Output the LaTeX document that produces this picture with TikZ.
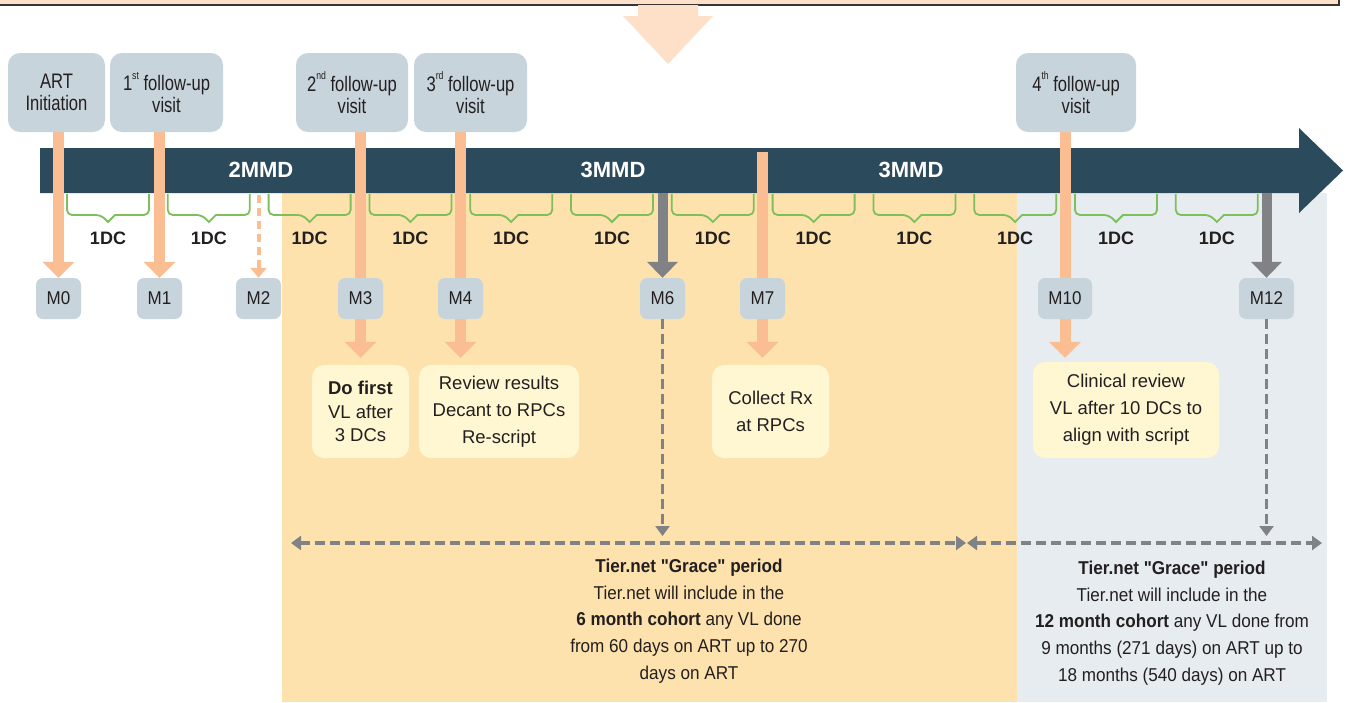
\documentclass[tikz,border=0pt]{standalone}
\usepackage{fontspec}
\setmainfont{Liberation Sans}
\newfontfamily\condA[FakeStretch=0.79]{Liberation Sans}
\newfontfamily\condB[FakeStretch=0.92]{Liberation Sans}
\usetikzlibrary{arrows.meta}
\definecolor{peach}{HTML}{FBBE92}
\definecolor{bandpeach}{HTML}{FDE0C8}
\definecolor{bigpeach}{HTML}{FEDFC7}
\definecolor{bandline}{HTML}{3A3433}
\definecolor{boxblue}{HTML}{C8D4DC}
\definecolor{barteal}{HTML}{2B4A5B}
\definecolor{regorange}{HTML}{FDE2AE}
\definecolor{reggrey}{HTML}{E6ECF0}
\definecolor{cream}{HTML}{FFF7D2}
\definecolor{brkgreen}{HTML}{7DC05B}
\definecolor{arrgrey}{HTML}{808285}
\definecolor{txt}{HTML}{231F20}
\pgfdeclarelayer{back}
\pgfdeclarelayer{mid}
\pgfsetlayers{back,mid,main}
\newcommand\supx[1]{\raisebox{0.55em}{\fontsize{11}{11}\selectfont #1}}
\tikzset{
  topbox/.style={fill=boxblue, rounded corners=12pt, minimum height=79pt, inner sep=0pt, align=center, text=txt, font=\condA\fontsize{21}{22}\selectfont},
  mbox/.style={fill=boxblue, rounded corners=7pt, minimum height=41pt, minimum width=45pt, inner sep=0pt, text=txt, font=\condB\fontsize{18.5}{20}\selectfont},
  actbox/.style={fill=cream, rounded corners=12pt, minimum height=93pt, inner sep=0pt, align=center, text=txt, font=\fontsize{18.5}{27}\selectfont},
  pa/.style={draw=peach, line width=11pt, -{Triangle[width=31pt,length=16pt]}},
  ga/.style={draw=arrgrey, line width=10pt, -{Triangle[width=30pt,length=16pt]}},
  gd/.style={draw=arrgrey, line width=3.2pt, dash pattern=on 10pt off 5pt},
  gtip/.tip={Triangle[width=14pt,length=10pt]},
  brk/.style={draw=brkgreen, line width=1.8pt},
  dclabel/.style={font=\bfseries\fontsize{18}{20}\selectfont, text=txt},
  bartext/.style={font=\bfseries\fontsize{22}{24}\selectfont, text=white},
  grace/.style={align=center, text=txt, font=\condB\fontsize{18.6}{26.6}\selectfont}
}
\begin{document}
\begin{tikzpicture}[x=1pt,y=-1pt]
\useasboundingbox (0,0) rectangle (1349,702);
% background layer
\begin{pgfonlayer}{back}
  \fill[white] (0,0) rectangle (1349,702);
  \fill[regorange] (282,193) rectangle (1017,702);
  \fill[reggrey] (1017,193) rectangle (1327,702);
  \draw[fill=bandpeach, draw=bandline, line width=1.5pt] (-5,-10) rectangle (1339,5);
  \fill[bigpeach] (638,5) -- (698,5) -- (698,16) -- (713,16) -- (668,64) -- (623,16) -- (638,16) -- cycle;
  \fill[barteal] (40,148) -- (1299,148) -- (1299,128) -- (1343,170.5) -- (1299,213) -- (1299,193) -- (40,193) -- cycle;
  \foreach \k in {0,...,11}{
    \pgfmathsetmacro\cx{108+100.8*\k}
    \draw[brk] (\cx-41,194) [rounded corners=5pt] -- (\cx-41,215) -- (\cx-7,215) [sharp corners] -- (\cx,222) -- (\cx+7,215) [rounded corners=5pt] -- (\cx+41,215) -- (\cx+41,194);
    \node[dclabel] at (\cx,238) {1DC};
  }
\end{pgfonlayer}
% bar texts
\node[bartext] (mmd2) at (261,170) {2MMD};
\node[bartext] (mmd3a) at (613,170) {3MMD};
\node[bartext] (mmd3b) at (911,170) {3MMD};
% top boxes
\node[topbox, minimum width=97pt] (t0) at (56.5,92.5) {ART\\Initiation};
\node[topbox, minimum width=113pt] (t1) at (166.5,92.5) {1\supx{st} follow-up\\visit};
\node[topbox, minimum width=112pt] (t2) at (352,92.5) {2\supx{nd} follow-up\\visit};
\node[topbox, minimum width=113pt] (t3) at (470.5,92.5) {3\supx{rd} follow-up\\visit};
\node[topbox, minimum width=120pt] (t4) at (1076,92.5) {4\supx{th} follow-up\\visit};
% month boxes
\node[mbox] (m0) at (58.5,298.5) {M0};
\node[mbox] (m1) at (159.5,298.5) {M1};
\node[mbox] (m2) at (258.5,298.5) {M2};
\node[mbox] (m3) at (360.5,298.5) {M3};
\node[mbox] (m4) at (460.5,298.5) {M4};
\node[mbox] (m6) at (662.5,298.5) {M6};
\node[mbox] (m7) at (762.5,298.5) {M7};
\node[mbox, minimum width=54pt] (m10) at (1065,298.5) {M10};
\node[mbox, minimum width=55pt] (m12) at (1266.5,298.5) {M12};
% action boxes
\node[actbox, minimum width=97pt, font=\fontsize{18.5}{23.5}\selectfont] (b3) at (360.5,411.5) {\textbf{Do first}\\VL after\\3 DCs};
\node[actbox, minimum width=160pt] (b4) at (499,411.5) {Review results\\Decant to RPCs\\Re-script};
\node[actbox, minimum width=117pt] (b7) at (770.5,411.5) {Collect Rx\\at RPCs};
\node[actbox, minimum width=186pt, minimum height=96pt] (b10) at (1126,410) {Clinical review\\VL after 10 DCs to\\align with script};
% coordinates
\coordinate (m2src) at (258.5,195);
\coordinate (m6src) at (662.5,193);
\coordinate (m12src) at (1266.5,193);
\coordinate (m7src) at (762.5,152);
\coordinate (g6tip) at (662.5,536);
\coordinate (g12tip) at (1266.5,536);
\coordinate (hl) at (291,543);
\coordinate (hm1) at (966,543);
\coordinate (hm2) at (967,543);
\coordinate (hr) at (1322,543);
% arrows (mid layer)
\begin{pgfonlayer}{mid}
  \draw[pa] (t0.south -| m0.north) -- (m0.north);
  \draw[pa] (t1.south -| m1.north) -- (m1.north);
  \draw[pa, shorten >=7pt] (t2.south -| m3.north) -- (b3.north -| m3.north);
  \draw[pa, shorten >=7pt] (t3.south -| m4.north) -- (b4.north -| m4.north);
  \draw[pa, shorten >=7pt] (m7src) -- (b7.north -| m7.north);
  \draw[pa, shorten >=4pt] (t4.south -| m10.north) -- (b10.north -| m10.north);
  \draw[draw=peach, line width=4pt, dash pattern=on 8pt off 5pt, -{Triangle[width=16pt,length=10pt]}] (m2src) -- (m2.north);
  \draw[ga] (m6src) -- (m6.north);
  \draw[ga] (m12src) -- (m12.north);
\end{pgfonlayer}
% grey dashed connectors
\draw[gd, -{gtip}] (m6.south) -- (g6tip);
\draw[gd, -{gtip}] (m12.south) -- (g12tip);
\draw[gd, {gtip}-{gtip}] (hl) -- (hm1);
\draw[gd, {gtip}-{gtip}] (hm2) -- (hr);
% grace texts
\node[grace] (g6) at (689,621) {\textbf{Tier.net "Grace" period}\\Tier.net will include in the\\\textbf{6 month cohort} any VL done\\from 60 days on ART up to 270\\days on ART};
\node[grace] (g12) at (1172,623) {\textbf{Tier.net "Grace" period}\\Tier.net will include in the\\\textbf{12 month cohort} any VL done from\\9 months (271 days) on ART up to\\18 months (540 days) on ART};
\end{tikzpicture}
\end{document}
